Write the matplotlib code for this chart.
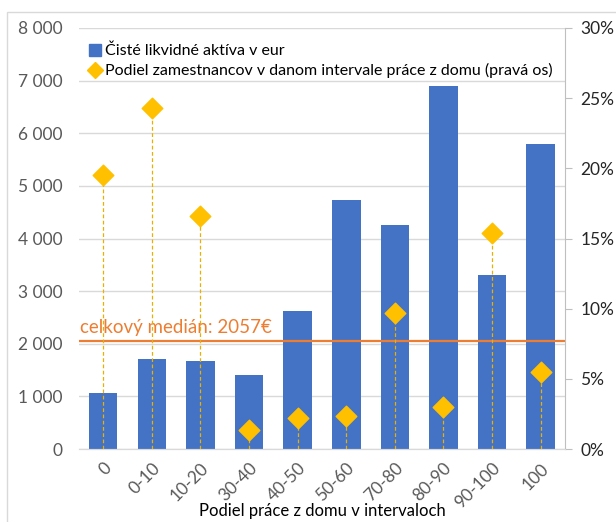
import matplotlib.pyplot as plt
from matplotlib.patches import Rectangle
from matplotlib.lines import Line2D

plt.rcParams['font.family'] = ['Lato', 'DejaVu Sans']

# Data
categories = ['0', '0-10', '10-20', '30-40', '40-50', '50-60', '70-80', '80-90', '90-100', '100']
assets_eur = [1070, 1710, 1680, 1410, 2620, 4740, 4250, 6900, 3310, 5800]
share_pct = [19.5, 24.3, 16.6, 1.35, 2.2, 2.35, 9.7, 3.0, 15.4, 5.5]
median_total = 2057

blue = '#4472C4'
yellow = '#FFC000'
orange = '#ED7D31'
grey_txt = '#595959'

fig = plt.figure(figsize=(6.16, 5.22), dpi=100)
ax = fig.add_axes([0.1282, 0.1398, 0.789, 0.8066])
ax2 = ax.twinx()

x = range(len(categories))

# Bars
ax.bar(x, assets_eur, width=0.585, color=blue, zorder=2)

# Median line + label
ax.axhline(median_total, color=orange, linewidth=1.6, zorder=3)
ax.text(-0.47, median_total + 90, 'celkový medián: 2057€', color=orange,
        fontsize=13.5, ha='left', va='bottom', zorder=4)

# Right axis: diamonds with drop lines
for xi, v in zip(x, share_pct):
    ax2.plot([xi, xi], [0, v], color='#E8B000', linewidth=0.9,
             linestyle=(0, (3, 2)), zorder=1)
ax2.scatter(list(x), share_pct, marker='D', s=110, color=yellow, zorder=5,
            edgecolors=yellow)

# Axes styling
ax.set_xlim(-0.5, len(categories) - 0.5)
ax.set_ylim(0, 8000)
ax.set_yticks(range(0, 8001, 1000))
ax.set_yticklabels([f'{v:,}'.replace(',', ' ') for v in range(0, 8001, 1000)])
ax.grid(axis='y', color='#D9D9D9', linewidth=1, zorder=0)
ax.set_axisbelow(True)
ax.tick_params(axis='y', length=0, labelsize=12.5, labelcolor=grey_txt, pad=12)
ax.set_xticks(list(x))
ax.set_xticklabels(categories, rotation=45, ha='right', rotation_mode='anchor')
ax.tick_params(axis='x', length=0, labelsize=12.5, labelcolor=grey_txt, pad=8)

# x-axis title, kept just inside the bottom edge
fig.text(0.5234, 3 / 522, 'Podiel práce z domu v intervaloch', fontsize=12,
         ha='center', va='bottom')

ax2.set_ylim(0, 30)
ax2.set_yticks(range(0, 31, 5))
ax2.set_yticklabels([f'{v}%' for v in range(0, 31, 5)])
ax2.tick_params(axis='y', length=5, color='#BFBFBF', labelsize=12.5,
                labelcolor='#262626', pad=6)

for a in (ax, ax2):
    for s in ('top', 'left'):
        a.spines[s].set_visible(False)
    a.spines['bottom'].set_color('#D9D9D9')
ax.spines['right'].set_visible(False)
ax2.spines['right'].set_color('#BFBFBF')

# Legend
handles = [
    Line2D([], [], marker='s', linestyle='none', color=blue, markersize=8),
    Line2D([], [], marker='D', linestyle='none', color=yellow, markersize=8),
]
labels = ['Čisté likvidné aktíva v eur',
          'Podiel zamestnancov v danom intervale práce z domu (pravá os)']
ax2.legend(handles, labels, loc='upper left', bbox_to_anchor=(-0.003, 0.985),
           frameon=False, fontsize=11.5, handletextpad=0.1, handlelength=1,
           labelspacing=0.3, borderaxespad=0.2)

# Outer chart frame
fig.patches.append(Rectangle((7 / 616, -0.05), 1.1, 1 - 12 / 522 + 0.05,
                             transform=fig.transFigure, fill=False,
                             edgecolor='#D9D9D9', linewidth=1))

fig.savefig('out.png', dpi=100)
